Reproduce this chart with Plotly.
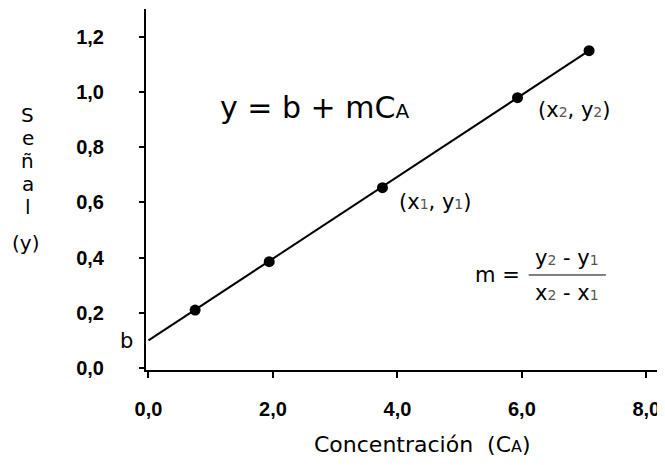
import plotly.graph_objects as go

# calibration points
conc = [0.75, 1.94, 3.76, 5.93, 7.08]
senal = [0.21, 0.385, 0.653, 0.979, 1.149]

# straight line y = b + m*C
fit_x = [0.0, 7.08]
fit_y = [0.10, 1.149]

x_ticks = [0, 2, 4, 6, 8]
y_ticks = [0, 0.2, 0.4, 0.6, 0.8, 1.0, 1.2]

y_title_letters = ["S", "e", "ñ", "a", "l"]

txt_font = "DejaVu Sans, Verdana, sans-serif"
tick_font = dict(family="Liberation Sans, Arial, sans-serif", size=20,
                 color="black", weight="bold")

fig = go.Figure()
fig.add_trace(go.Scatter(x=fit_x, y=fit_y, mode="lines",
                         line=dict(color="black", width=2), showlegend=False))
fig.add_trace(go.Scatter(x=conc, y=senal, mode="markers",
                         marker=dict(color="black", size=11), showlegend=False))

sub = "<span style='font-size:14px;color:#555'>%s</span>"

def note(text, x, y, size=21, xanchor="center", xref="x", yref="y"):
    fig.add_annotation(text=text, x=x, y=y, xref=xref, yref=yref, showarrow=False,
                       xanchor=xanchor, yanchor="middle",
                       font=dict(family=txt_font, size=size, color="black"))

note("y = b + mC<span style='font-size:20px'>A</span>", 1.12, 0.942, size=30, xanchor="left")
note("(x" + sub % "2" + ", y" + sub % "2" + ")", 6.83, 0.935)
note("(x" + sub % "1" + ", y" + sub % "1" + ")", 4.6, 0.60)
note("m =", 5.21, 0.337, xanchor="left")
note("y" + sub % "2" + " - y" + sub % "1", 6.72, 0.399)
note("x" + sub % "2" + " - x" + sub % "1", 6.72, 0.272)
fig.add_shape(type="line", x0=6.11, x1=7.35, y0=0.337, y1=0.337,
              line=dict(color="black", width=1))

# labels outside the plotting area (paper coordinates)
note("b", -0.037, 0.08, xref="paper", yref="paper")
note("Concentración  (C<span style='font-size:16px'>A</span>)", 0.532, -0.205,
     size=22, xref="paper", yref="paper")
for i, ch in enumerate(y_title_letters):
    note(ch, -0.228, 0.706 - i * 0.0637, size=20, xref="paper", yref="paper")
note("(y)", -0.233, 0.352, size=20, xref="paper", yref="paper")

fig.update_xaxes(range=[-0.04, 8.3], tickvals=x_ticks, tickformat=".1f",
                 showgrid=False, zeroline=False, showline=True, linecolor="black",
                 linewidth=2, ticks="outside", ticklen=6, tickwidth=2, tickcolor="black",
                 tickfont=tick_font, ticklabelstandoff=14, automargin=False)
fig.update_yaxes(range=[-0.007, 1.3], tickvals=y_ticks, tickformat=".1f",
                 showgrid=False, zeroline=False, showline=True, linecolor="black",
                 linewidth=2, ticks="outside", ticklen=5, tickwidth=2, tickcolor="black",
                 tickfont=tick_font, ticklabelstandoff=31, automargin=False)

# page body keeps an 8px margin, so the figure is smaller than the window
fig.update_layout(width=657, height=449, separators=",.",
                  margin=dict(l=138, r=0, t=1, b=87),
                  plot_bgcolor="white", paper_bgcolor="white")

fig.write_html("out.html")
